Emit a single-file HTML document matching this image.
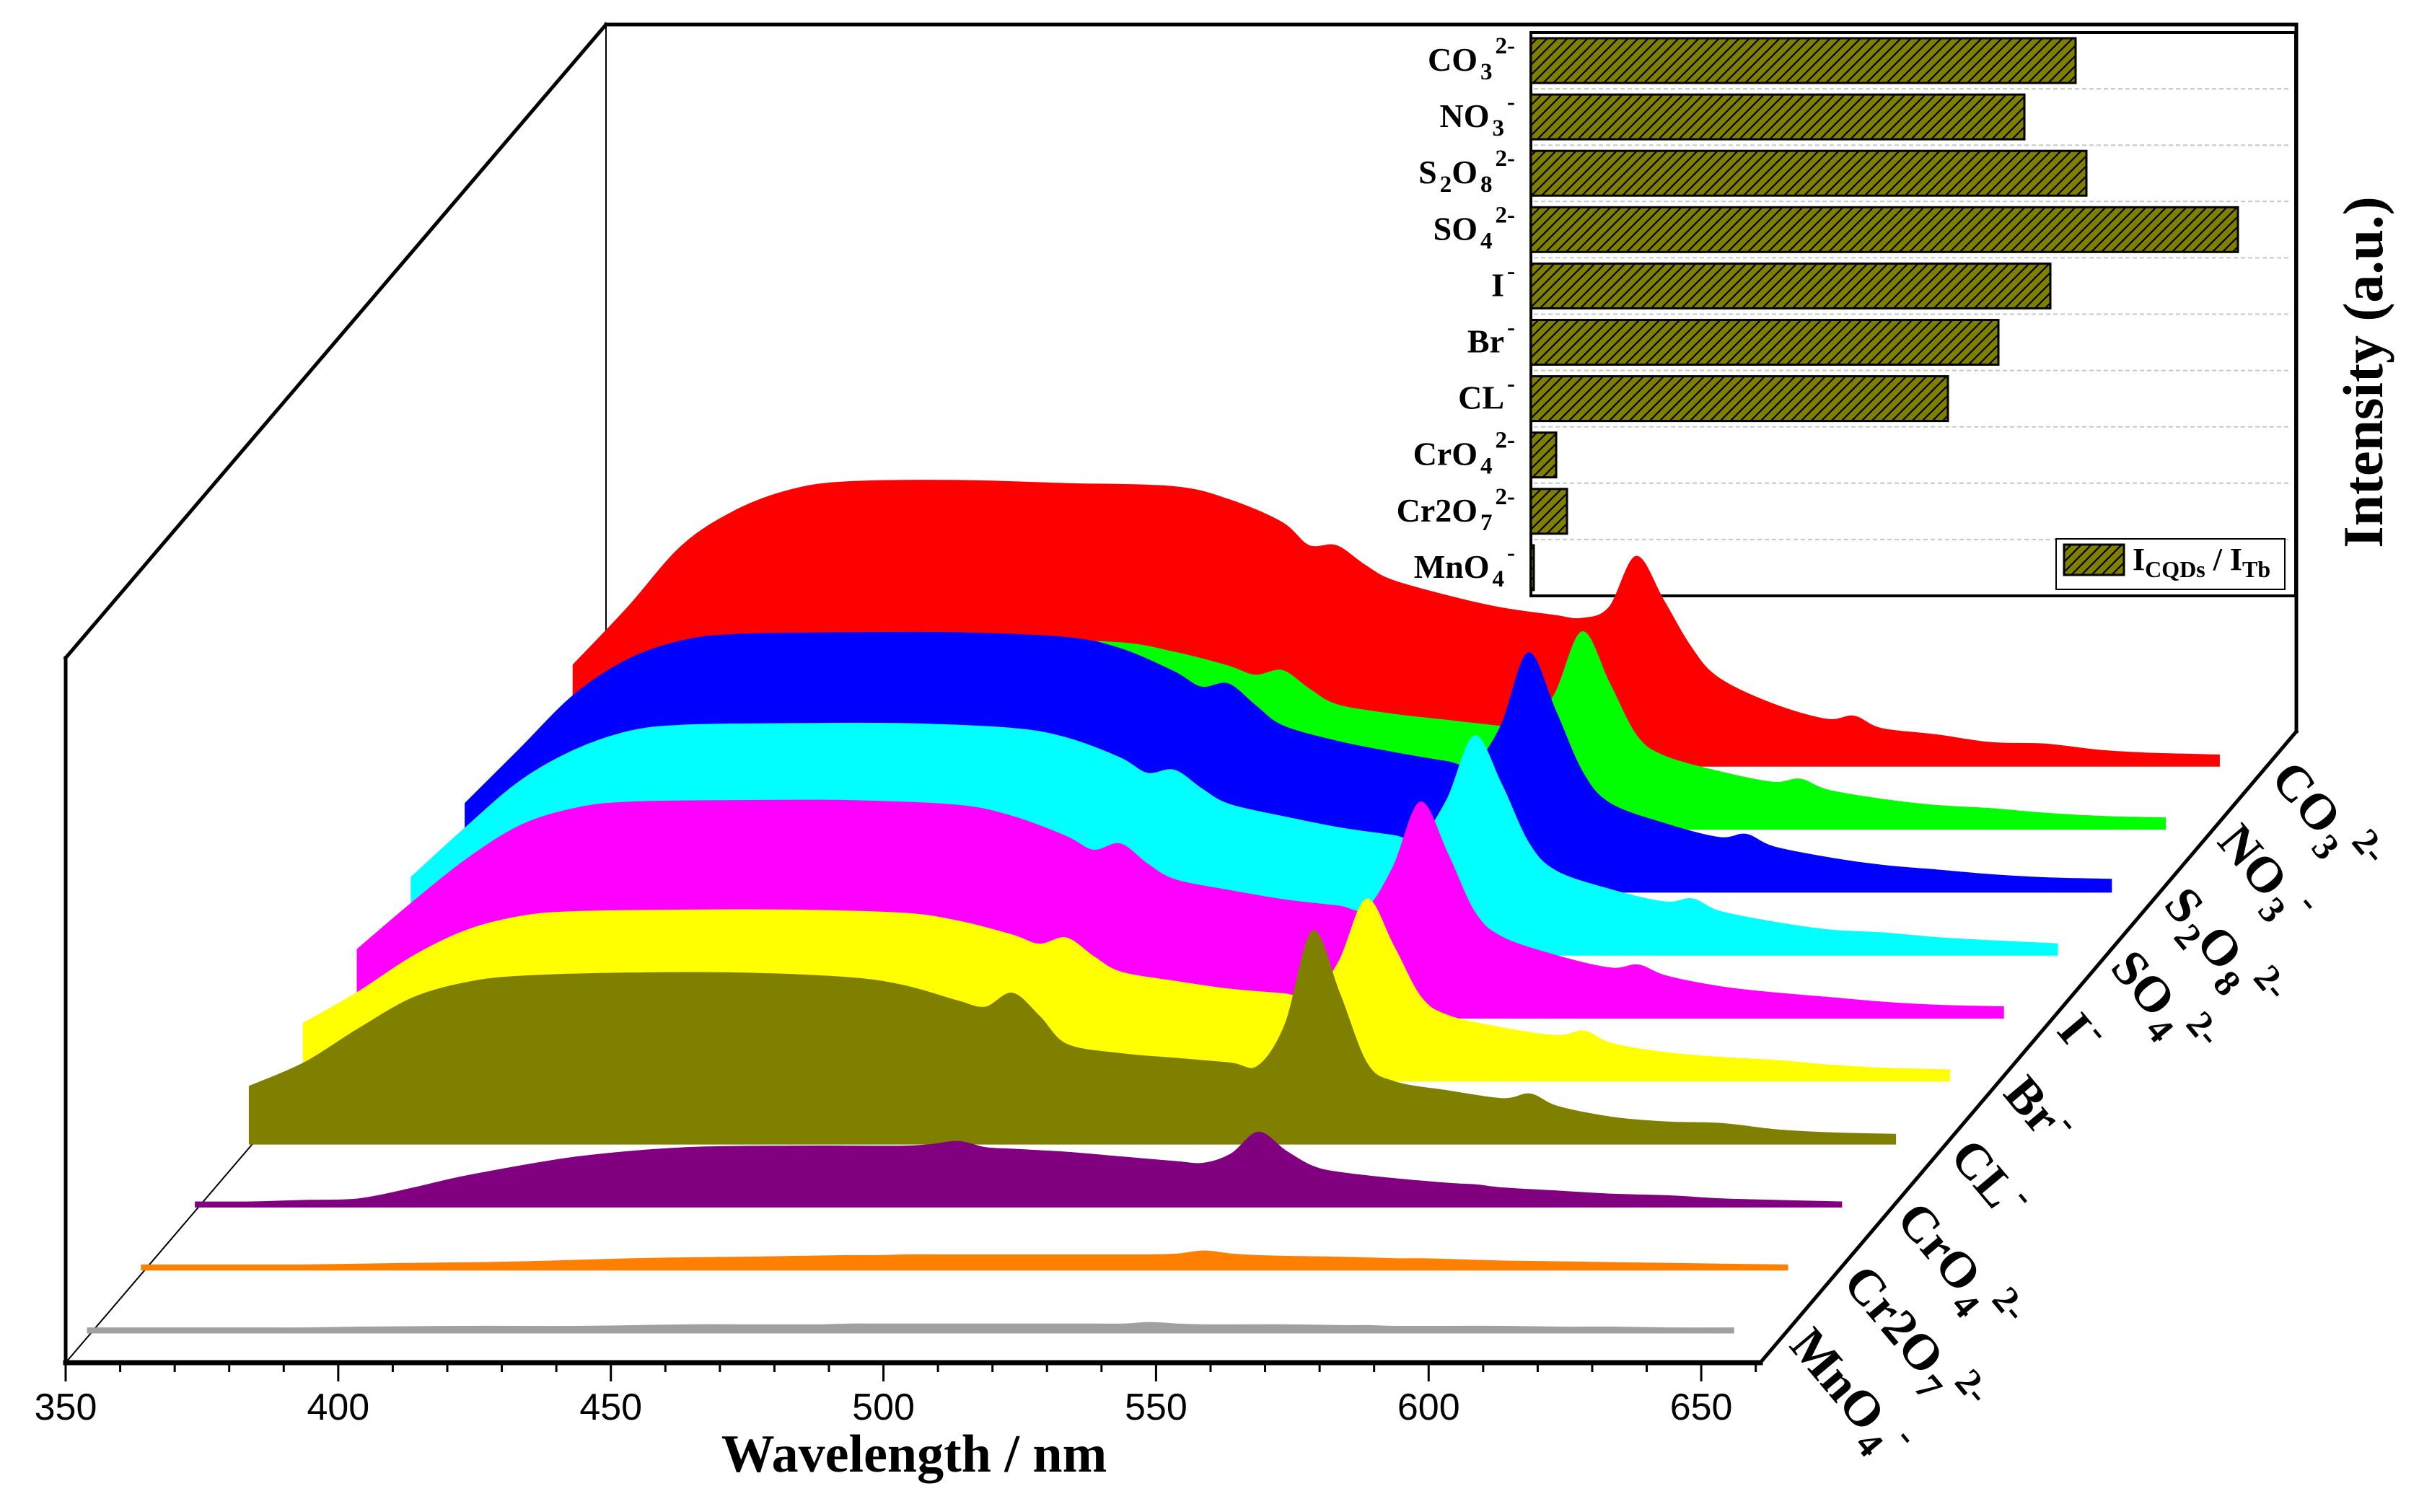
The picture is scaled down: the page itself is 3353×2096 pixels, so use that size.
<!DOCTYPE html>
<html><head><meta charset="utf-8"><style>
html,body{margin:0;padding:0;background:#fff;}
svg{display:block;}
</style></head><body>
<svg id="chart" xmlns="http://www.w3.org/2000/svg" width="3353" height="2096" viewBox="0 0 3353 2096">
<defs>
<pattern id="hatch" patternUnits="userSpaceOnUse" width="14" height="14">
<rect width="14" height="14" fill="#808000"/>
<path d="M-2,16 L16,-2 M-9,9 L9,-9 M5,23 L23,5" stroke="#000" stroke-width="2.2"/>
</pattern>
</defs>
<g id="frame"></g>
<g id="axes"></g>
<g id="inset"></g>
<g id="series"></g>
</svg>
<script>
const wavelengths=[350,360,370,380,390,400,420,440,460,470,480,485,490,495,500,510,520,530,535,540,545,550,555,560,570,580,585,590,600,610,620,630,640,652];
const sMnO4=[1,1,1,1,1,1.5,2,2,3,3,3,3,3.5,3.5,3.5,3.5,3.5,3.5,3.5,3.5,4.5,3.5,3,3,3,2.5,2.5,2,2,2,1.5,1.5,1,1];
const sCr2O7=[1,1,1,1,1.5,2,3,5,6,6.5,7,7,7.5,7.5,7.5,7.5,7.5,7.5,7.5,8,10,8,7,6.5,6,5,5,4.5,3.5,3,2.5,2,1.5,1];
const sCrO4=[1,1,2,3,10,18,30,36,37,37,37,38,40,36,35,33,30,27,26,32,46,34,24,20,16,13,12,10,8,6,5,3,2,1];
const sCL=[35,50,72,92,102,106,108,108,105,100,90,86,95,80,62,56,53,50,48,75,135,95,50,38,32,27,30,22,15,12,11,7,5,4];
const sBr=[35,55,78,95,104,107,108,108,106,101,92,86,90,78,68,62,57,54,52,75,115,85,52,40,32,27,30,22,16,13,11,8,6,5];
const sI=[42,72,100,122,133,137,138,138,135,128,115,106,110,97,87,80,74,70,68,95,137,104,66,50,38,30,32,25,18,14,11,8,6,5];
const sSO4=[48,80,110,130,142,146,147,147,144,138,125,115,117,105,95,87,80,75,73,98,139,108,70,52,40,32,34,26,19,14,12,9,7,5];
const sS2O8=[55,90,125,148,160,164,165,165,162,155,140,130,132,118,105,95,88,82,80,105,152,115,75,55,42,33,35,27,20,15,12,9,7,6];
const sNO3=[45,70,95,110,117,120,121,120,118,112,103,97,100,88,78,72,68,64,62,85,125,92,58,45,35,28,30,23,17,13,11,8,6,5];
const sCO3=[63,100,140,163,176,181,182,180,178,170,155,140,140,128,118,108,100,95,93,100,133,105,75,55,38,28,30,22,18,13,12,8,6,5];
const xTicks=[350,400,450,500,550,600,650];
const barCategories=["CO3","NO3","S2O8","SO4","I","Br","CL","CrO4","Cr2O7","MnO4"];
const barValues=[0.755,0.684,0.770,0.980,0.720,0.648,0.578,0.035,0.050,0.004];

const NS="http://www.w3.org/2000/svg";
function mk(tag,attrs,parent){const e=document.createElementNS(NS,tag);for(const k in attrs)e.setAttribute(k,attrs[k]);if(parent)parent.appendChild(e);return e;}
const X0=91, PXNM=7.557, DX=74.8, BASE0=1846, DY=-87.3, YS=2.15;
function xAxis(nm){return X0+(nm-350)*PXNM;}
function sx(nm,i){return xAxis(nm)+30+DX*i;}
function baseY(i){return BASE0+DY*i;}
function sy(v,i){return baseY(i)-v*YS;}

const frame=document.getElementById('frame');
function line(x1,y1,x2,y2,w,name,c){const l=mk('line',{x1,y1,x2,y2,stroke:c||'#000','stroke-width':w,'stroke-linecap':'square'},frame);

return l;}
line(840,34,840,1000,2,'back-wall-edge','#000');
line(91,1889,840,1012,2,'floor-left-edge','#000');

const series=[
 {n:'MnO4',d:sMnO4,c:'#a0a0a0'},{n:'Cr2O7',d:sCr2O7,c:'#ff8000'},{n:'CrO4',d:sCrO4,c:'#800080'},
 {n:'CL',d:sCL,c:'#808000'},{n:'Br',d:sBr,c:'#ffff00'},{n:'I',d:sI,c:'#ff00ff'},
 {n:'SO4',d:sSO4,c:'#00ffff'},{n:'S2O8',d:sS2O8,c:'#0000ff'},{n:'NO3',d:sNO3,c:'#00ff00'},{n:'CO3',d:sCO3,c:'#ff0000'}];
const sg=document.getElementById('series');
for(let i=series.length-1;i>=0;i--){
  const s=series[i];
  const pts=wavelengths.map((w,k)=>[sx(w,i),sy(s.d[k]+1.5,i)]);
  let d=`M${sx(wavelengths[0],i)},${baseY(i)+2} L${pts[0][0]},${pts[0][1]}`;
  for(let k=0;k<pts.length-1;k++){
    const p0=pts[Math.max(0,k-1)],p1=pts[k],p2=pts[k+1],p3=pts[Math.min(pts.length-1,k+2)];
    const c1=[p1[0]+(p2[0]-p0[0])/6,p1[1]+(p2[1]-p0[1])/6];
    const c2=[p2[0]-(p3[0]-p1[0])/6,p2[1]-(p3[1]-p1[1])/6];
    d+=` C${c1[0]},${c1[1]} ${c2[0]},${c2[1]} ${p2[0]},${p2[1]}`;
  }
  d+=` L${sx(wavelengths[wavelengths.length-1],i)},${baseY(i)+2} Z`;
  const p=mk('path',{d,fill:s.c,stroke:s.c,'stroke-width':1},sg);
  
  
}

const ax=document.getElementById('axes');
const thick=[[91,1889,2440,1889,'x-axis-line'],[91,1889,91,912,'left-wall-edge'],[91,912,840,34,'left-top-edge'],[840,34,3183,34,'top-edge'],[3183,34,3183,1014,'right-wall-edge'],[2440,1889,3183,1014,'depth-axis-line']];
thick.forEach(t=>{const l=mk('line',{x1:t[0],y1:t[1],x2:t[2],y2:t[3],stroke:'#000','stroke-width':t[0]===91&&t[2]===2440?7:5,'stroke-linecap':'square'},ax);

});
for(let nm=350;nm<=660;nm+=10){
  const major=nm%50===0;
  const t=mk('line',{x1:xAxis(nm),y1:1889,x2:xAxis(nm),y2:1889+(major?26:13),stroke:'#000','stroke-width':3},ax);
  
  
}
xTicks.forEach(v=>{const t=mk('text',{x:xAxis(v),y:1968,'text-anchor':'middle','font-family':'Liberation Sans, sans-serif','font-size':52},ax);t.textContent=v;

});
const xt=mk('text',{x:1267,y:2040,'text-anchor':'middle','font-family':'Liberation Serif, serif','font-size':74,'font-weight':'bold'},ax);
xt.textContent='Wavelength / nm';


const yt=mk('text',{x:0,y:0,'text-anchor':'middle','font-family':'Liberation Serif, serif','font-size':78,'font-weight':'bold',transform:'translate(3302,516) rotate(-90)'},ax);
yt.textContent='Intensity (a.u.)';



const labelParts={MnO4:['MnO','4','-'],Cr2O7:['Cr2O','7','2-'],CrO4:['CrO','4','2-'],CL:['CL','','-'],Br:['Br','','-'],I:['I','','-'],SO4:['SO','4','2-'],S2O8:['S','2','O','8','2-'],NO3:['NO','3','-'],CO3:['CO','3','2-']};
function addChem(t,parts,big,small,sub,sup){
  let prevShift=0;
  for(let k=0;k<parts.length;k++){
    const last=k===parts.length-1;
    const isSub=!last&&k%2===1;
    if(parts[k]==='')continue;
    const target=last?-sup:(isSub?sub:0);
    const ts=mk('tspan',{dy:target-prevShift,'font-size':(isSub||last)?small:big},t);
    if(last)ts.setAttribute('dx',4);
    if(isSub)ts.setAttribute('dx',4);
    ts.textContent=parts[k];prevShift=target;
  }
}
series.forEach((s,i)=>{
  const by=baseY(i);
  const axX=2440+(1889-by)*(743/875);
  const t=mk('text',{x:0,y:0,'font-family':'Liberation Serif, serif','font-weight':'bold','font-size':70,transform:`translate(${axX+2},${by+20}) rotate(50)`},ax);
  addChem(t,labelParts[s.n],70,52,18,30);
  
  
});

const ins=document.getElementById('inset');
const IL=2122,IT=45,IR=3182,IB=826,ROW=78.1,BS=1000;
const box=mk('rect',{x:IL,y:IT,width:IR-IL,height:IB-IT,fill:'#fff',stroke:'#000','stroke-width':4},ins);


for(let k=1;k<barCategories.length;k++){
  const g=mk('line',{x1:IL+4,y1:IT+k*ROW,x2:IR-6,y2:IT+k*ROW,stroke:'#c8c8c8','stroke-width':2,'stroke-dasharray':'6,4'},ins);
  
  
}
const insetParts={CO3:['CO','3','2-'],NO3:['NO','3','-'],S2O8:['S','2','O','8','2-'],SO4:['SO','4','2-'],I:['I','','-'],Br:['Br','','-'],CL:['CL','','-'],CrO4:['CrO','4','2-'],Cr2O7:['Cr2O','7','2-'],MnO4:['MnO','4','-']};
barCategories.forEach((c,k)=>{
  const y=IT+k*ROW+8;
  const r=mk('rect',{x:IL,y,width:Math.max(3,barValues[k]*BS),height:62,fill:'url(#hatch)',stroke:'#000','stroke-width':3},ins);
  
  
  const t=mk('text',{x:IL-22,y:y+45,'text-anchor':'end','font-family':'Liberation Serif, serif','font-weight':'bold','font-size':46},ins);
  addChem(t,insetParts[c],46,33,12,24);
  
  
});
const lg=mk('g',{},ins);


mk('rect',{x:2850,y:747,width:317,height:70,fill:'#fff',stroke:'#000','stroke-width':2},lg);
mk('rect',{x:2861,y:755,width:83,height:42,fill:'url(#hatch)',stroke:'#000','stroke-width':3},lg);
const lt=mk('text',{x:2956,y:790,'font-family':'Liberation Serif, serif','font-weight':'bold','font-size':44},lg);
lt.innerHTML='<tspan>I</tspan><tspan dy="10" font-size="32">CQDs</tspan><tspan dy="-10"> / I</tspan><tspan dy="10" font-size="32">Tb</tspan>';
</script>
</body></html>
